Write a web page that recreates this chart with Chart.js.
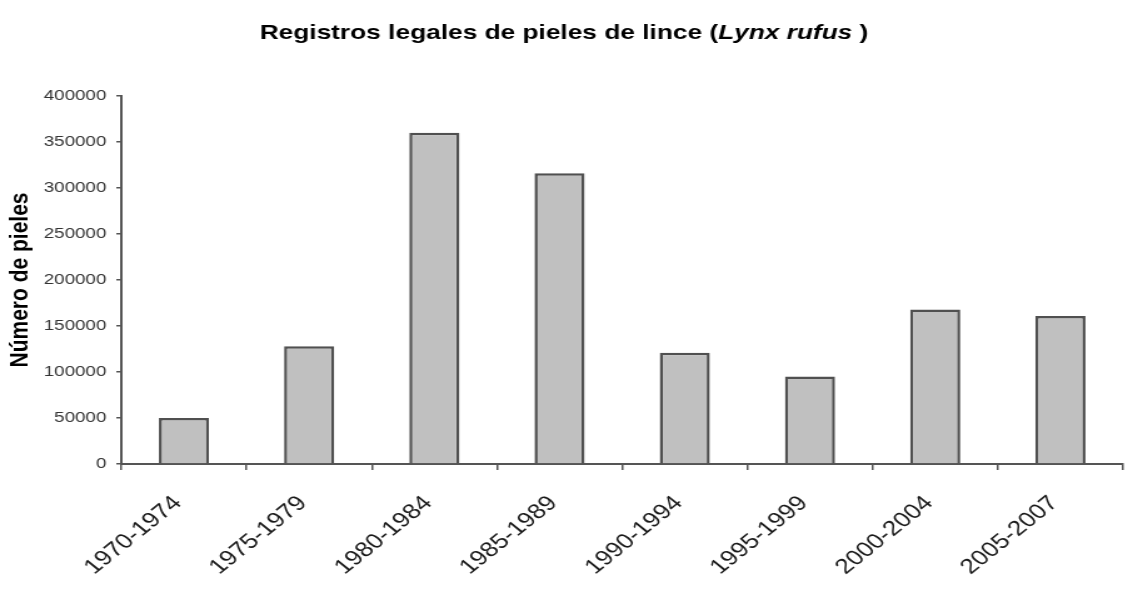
<!DOCTYPE html>
<html lang="es">
<head>
<meta charset="utf-8">
<title>Registros legales de pieles de lince</title>
<script src="https://cdn.jsdelivr.net/npm/chart.js@4/dist/chart.umd.min.js"></script>
<style>
  html, body { margin: 0; padding: 0; background: #fff; overflow: hidden; }
  #wrap {
    position: absolute; left: 0; top: 0;
    width: 902px; height: 591px;
    transform: scaleX(1.2506);
    transform-origin: 0 0;
  }
</style>
</head>
<body>
<div id="wrap"><canvas id="chart"></canvas></div>
<script>
// Five-year periods and the number of bobcat pelts legally recorded in each
const periods = ['1970-1974', '1975-1979', '1980-1984', '1985-1989',
                 '1990-1994', '1995-1999', '2000-2004', '2005-2007'];
const pelts = [50000, 128000, 360000, 316000, 121000, 95000, 168000, 161000];

// Value axis range
const yMin = 0;
const yMax = 400000;
const yStep = 50000;

// Title pieces: plain bold text plus the italic scientific name
const titleParts = [
  { text: 'Registros legales de pieles de lince (', style: 'bold' },
  { text: 'Lynx rufus', style: 'italic bold' },
  { text: ' )', style: 'bold' }
];

const FONT = '"Liberation Sans", Arial, Helvetica, sans-serif';
const AXIS = '#555555';

const titlePlugin = {
  id: 'mixedTitle',
  afterDraw(chart) {
    const ctx = chart.ctx;
    ctx.save();
    ctx.fillStyle = '#000';
    ctx.textBaseline = 'alphabetic';
    ctx.textAlign = 'left';
    let total = 0;
    const widths = titleParts.map(p => {
      ctx.font = `${p.style} 21px ${FONT}`;
      const w = ctx.measureText(p.text).width;
      total += w;
      return w;
    });
    let x = chart.width / 2 - total / 2;
    const y = 39;
    titleParts.forEach((p, i) => {
      ctx.font = `${p.style} 21px ${FONT}`;
      ctx.fillText(p.text, x, y);
      x += widths[i];
    });
    ctx.restore();
  }
};

new Chart(document.getElementById('chart'), {
  type: 'bar',
  data: {
    labels: periods,
    datasets: [{
      data: pelts,
      backgroundColor: '#c0c0c0',
      borderColor: '#505050',
      borderWidth: 2.5,
      borderSkipped: 'bottom',
      barPercentage: 0.4,
      categoryPercentage: 1.0
    }]
  },
  options: {
    responsive: true,
    maintainAspectRatio: false,
    animation: false,
    layout: { padding: { left: 0, right: 4, top: 96, bottom: 0 } },
    plugins: {
      legend: { display: false },
      title: { display: false },
      tooltip: { enabled: false }
    },
    scales: {
      x: {
        offset: true,
        grid: {
          offset: true,
          drawOnChartArea: false,
          drawTicks: true,
          tickLength: 6,
          tickColor: AXIS,
          lineWidth: 1.5
        },
        border: { color: AXIS, width: 2 },
        ticks: {
          maxRotation: 45,
          minRotation: 45,
          autoSkip: false,
          padding: 21,
          labelOffset: -5,
          color: '#1a1a1a',
          font: { family: FONT, size: 21 }
        },
        afterFit(scale) { scale.height = 127; }
      },
      y: {
        min: yMin,
        max: yMax,
        grid: {
          drawOnChartArea: false,
          drawTicks: true,
          tickLength: 4,
          tickColor: AXIS,
          lineWidth: 1.5
        },
        border: { color: AXIS, width: 2 },
        ticks: {
          stepSize: yStep,
          padding: 8,
          color: '#333',
          font: { family: FONT, size: 15 },
          callback: v => String(v)
        },
        title: {
          display: true,
          text: 'Número de pieles',
          color: '#000',
          font: { family: FONT, size: 21, weight: 'bold' },
          padding: { top: 4, bottom: 0 }
        },
        afterFit(scale) { scale.width = 97; }
      }
    }
  },
  plugins: [titlePlugin]
});
</script>
</body>
</html>
